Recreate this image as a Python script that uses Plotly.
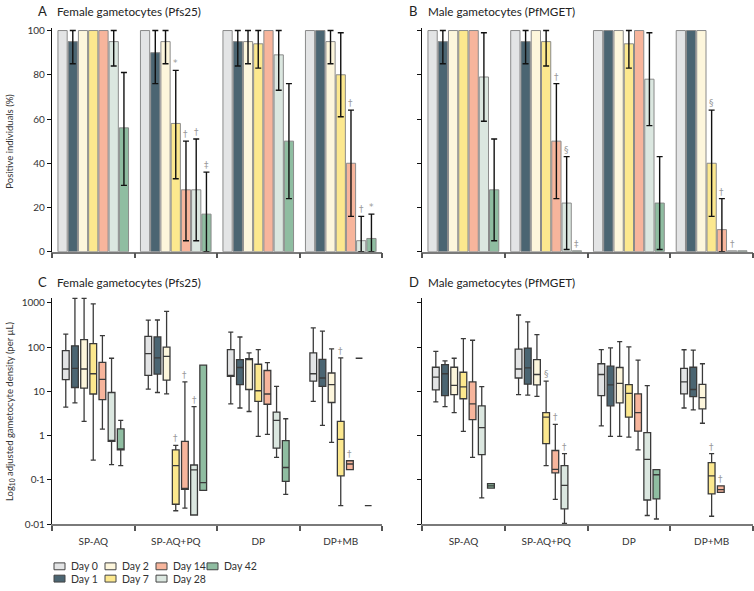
import math
import plotly.graph_objects as go

W, H = 754, 591
FONT = "Lato"

groups = ["SP-AQ", "SP-AQ+PQ", "DP", "DP+MB"]
days = ["Day 0", "Day 1", "Day 2", "Day 7", "Day 14", "Day 28", "Day 42"]
day_colors = ["#e3e4e5", "#4b6572", "#fdf6dc", "#fce88e", "#f7b59c", "#dbe7e0", "#8fbda1"]

# Panel A/B: % positive individuals, rows = day, cols = group; CI lower / upper (None = not drawn)
fem_pct = [[100, 100, 100, 100], [95, 90, 95, 100], [100, 95, 95, 95], [100, 58, 94, 80],
           [100, 28, 100, 40], [95, 28, 89, 5], [56, 17, 50, 6]]
fem_lo = [[None] * 4, [85, 76, 84, None], [None, 85, 85, 85], [None, 33, 83, 61],
          [None, 5, None, 16], [84, 5, 73, 0], [30, 0, 24, 0]]
fem_hi = [[None] * 4, [100, 100, 100, None], [None, 100, 100, 100], [None, 82, 100, 99],
          [None, 50, None, 64], [100, 51, 100, 16], [81, 36, 76, 17]]
fem_sig = [(1, 3, "*"), (1, 4, "†"), (1, 5, "†"), (1, 6, "‡"), (3, 4, "†"), (3, 5, "†"), (3, 6, "*")]

male_pct = [[100, 100, 100, 100], [95, 95, 100, 100], [100, 100, 100, 100], [100, 95, 94, 40],
            [100, 50, 100, 10], [79, 22, 78, 0.4], [28, 0.4, 22, 0.4]]
male_lo = [[None] * 4, [85, 85, None, None], [None] * 4, [None, 84, 83, 16],
           [None, 24, None, 0], [59, 1, 57, None], [5, None, 1, None]]
male_hi = [[None] * 4, [100, 100, None, None], [None] * 4, [None, 100, 100, 64],
           [None, 76, None, 24], [99, 43, 99, None], [51, None, 43, None]]
male_sig = [(1, 4, "†"), (1, 5, "§"), (1, 6, "‡"), (3, 3, "§"), (3, 4, "†"), (3, 5, "†")]

# Panel C/D: box stats per day -> per group (lowerfence, q1, median, q3, upperfence); None = no data
fem_box = [
    [(4.4, 18.4, 32, 83, 197), (11.2, 23, 71, 175, 405), (5.2, 21.8, 21.8, 88, 219), (5.9, 17, 25, 74, 273)],
    [(5.5, 12.2, 33, 107, 1270), (9.4, 24.5, 57, 170, 410), (4.2, 14.2, 34.6, 52, 169), (1.7, 13, 20, 53, 230)],
    [(2.1, 11.8, 32, 148, 1270), (8.8, 18, 62, 100, 641), (3.5, 11, 55, 55, 74), (0.7, 5.6, 14.2, 26, 91)],
    [(0.28, 8.7, 25, 120, 950), (0.02, 0.028, 0.21, 0.475, 0.6), (0.96, 5.9, 10.3, 41, 88), (0.026, 0.123, 0.82, 2.1, 57)],
    [(1.4, 6.5, 18.7, 45, 181), (0.023, 0.061, 0.061, 0.74, 16.3), (1.06, 5.1, 8.7, 29.6, 44.6), (0.17, 0.17, 0.228, 0.27, 0.27)],
    [(0.22, 0.74, 0.74, 9.4, 56), (0.016, 0.016, 0.167, 0.216, 4.5), (0.32, 0.52, 2.2, 3.4, 13), (56, 56, 56, 56, 56)],
    [(0.21, 0.475, 0.475, 1.42, 2.2), (0.058, 0.058, 0.086, 39, 39), (0.047, 0.092, 0.19, 0.77, 2.4), (0.026, 0.026, 0.026, 0.026, 0.026)],
]
fem_box_sig = [(1, 3, "†"), (1, 4, "†"), (1, 5, "†"), (3, 3, "†"), (3, 4, "†")]

male_box = [
    [(5.75, 10.8, 21, 35, 80), (8.4, 20, 32, 90, 532), (1.65, 8, 24, 42, 88), (4.2, 8.8, 16.3, 33, 87)],
    [(4.5, 8, 25, 40, 49), (8.2, 14.5, 34, 95, 371), (0.96, 4.7, 14, 37, 96), (3.8, 7.6, 11, 35, 85)],
    [(3.3, 8.4, 13.7, 35, 56), (7.7, 14, 24, 52, 191), (0.96, 5.5, 15.2, 34.6, 133), (1.9, 4.0, 7.2, 14.4, 42)],
    [(1.24, 6.8, 12.6, 27, 155), (0.21, 0.66, 2.6, 3.3, 17), (0.92, 2.6, 9, 14.2, 101), (0.015, 0.048, 0.123, 0.244, 0.39)],
    [(0.32, 2.3, 5.2, 16.3, 143), (0.036, 0.144, 0.173, 0.46, 1.8), (0.475, 1.26, 3.3, 8.8, 51), (0.052, 0.052, 0.06, 0.073, 0.073)],
    [(0.039, 0.37, 1.52, 4.7, 12.8), (0.0103, 0.022, 0.075, 0.21, 0.39), (0.0156, 0.035, 0.29, 1.17, 13.5), None],
    [(0.065, 0.065, 0.073, 0.082, 0.082), None, (0.013, 0.037, 0.13, 0.17, 0.17), None],
]
male_box_sig = [(1, 3, "§"), (1, 4, "†"), (1, 5, "†"), (3, 3, "†"), (3, 4, "†")]

log_ticks = [0.01, 0.1, 1, 10, 100, 1000]
log_ticktext = ["0·01", "0·1", "1", "10", "100", "1000"]

BAR_STEP, BAR_W = 0.124, 0.112
BOX_STEP, BOX_W = 0.111, 0.082
SIG_FONT = dict(family="DejaVu Sans", size=9, color="#999999")


def px(x):
    # pixel -> paper fraction
    return x / W


def py(y):
    return 1 - y / H


fig = go.Figure()


def add_bars(pct, lo, hi, sig, xa, ya):
    for d, name in enumerate(days):
        xs = [g + (d - 3) * BAR_STEP for g in range(4)]
        fig.add_trace(go.Bar(x=xs, y=pct[d], width=BAR_W, name=name, showlegend=False,
                             marker=dict(color=day_colors[d], line=dict(color="#8a8a8a", width=1)),
                             xaxis=xa, yaxis=ya))
        ex, ey, eu, em = [], [], [], []
        for g in range(4):
            if lo[d][g] is None:
                continue
            ex.append(xs[g])
            ey.append(pct[d][g])
            eu.append(hi[d][g] - pct[d][g])
            em.append(pct[d][g] - lo[d][g])
        if ex:
            fig.add_trace(go.Scatter(x=ex, y=ey, mode="markers", marker=dict(size=1, opacity=0),
                                     error_y=dict(type="data", array=eu, arrayminus=em, symmetric=False,
                                                  color="#111", thickness=1.4, width=3),
                                     showlegend=False, hoverinfo="skip", xaxis=xa, yaxis=ya))
    for g, d, s in sig:
        top = hi[d][g] if hi[d][g] is not None else pct[d][g]
        fig.add_annotation(x=g + (d - 3) * BAR_STEP, y=top, xref=xa, yref=ya, text=s, showarrow=False,
                           xanchor="center", yanchor="bottom", font=SIG_FONT)


def add_boxes(box, sig, xa, ya):
    for d, name in enumerate(days):
        xs, lf, q1, md, q3, uf = [], [], [], [], [], []
        for g in range(4):
            b = box[d][g]
            if b is None:
                continue
            xs.append(g + (d - 3) * BOX_STEP)
            lf.append(b[0]); q1.append(b[1]); md.append(b[2]); q3.append(b[3]); uf.append(b[4])
        fig.add_trace(go.Box(x=xs, q1=q1, median=md, q3=q3, lowerfence=lf, upperfence=uf,
                             width=BOX_W, whiskerwidth=0.75, fillcolor=day_colors[d],
                             line=dict(color="#3a3a3a", width=1.3), name=name, showlegend=False,
                             hoverinfo="skip", xaxis=xa, yaxis=ya))
    for g, d, s in sig:
        fig.add_annotation(x=g + (d - 3) * BOX_STEP, y=math.log10(box[d][g][4]), xref=xa, yref=ya,
                           text=s, showarrow=False, xanchor="center", yanchor="bottom", font=SIG_FONT)


add_bars(fem_pct, fem_lo, fem_hi, fem_sig, "x", "y")
add_bars(male_pct, male_lo, male_hi, male_sig, "x2", "y2")
add_boxes(fem_box, fem_box_sig, "x3", "y3")
add_boxes(male_box, male_box_sig, "x4", "y4")

tick_font = dict(family=FONT, size=10, color="#333")
xcommon = dict(range=[-0.5, 3.5], showline=True, linecolor="#7a7a7a", linewidth=1.5, showgrid=False,
               zeroline=False, tickvals=[0, 1, 2, 3], ticktext=groups, ticks="", ticklabelstandoff=7,
               tickfont=tick_font,
               minor=dict(tickvals=[-0.5, 0.5, 1.5, 2.5, 3.5], ticks="outside", ticklen=5,
                          tickwidth=1.5, tickcolor="#555"))
ycommon = dict(showline=True, linecolor="#111", linewidth=1.3, ticks="outside", ticklen=4,
               tickwidth=1.2, tickcolor="#111", showgrid=False, zeroline=False, tickfont=tick_font)

yA = [24.75, 252]
yC = [298.6, 529]
xL = [52, 382]
xR = [422, 753]

fig.update_layout(
    width=W, height=H, margin=dict(l=0, r=0, t=0, b=0),
    paper_bgcolor="white", plot_bgcolor="white", barmode="overlay", boxmode="overlay",
    showlegend=False, font=dict(family=FONT, color="#222"),
    xaxis=dict(xcommon, domain=[px(xL[0]), px(xL[1])], anchor="y", showticklabels=False),
    yaxis=dict(ycommon, domain=[py(yA[1]), py(yA[0])], anchor="x", range=[0, 101],
               tickvals=[0, 20, 40, 60, 80, 100]),
    xaxis2=dict(xcommon, domain=[px(xR[0]), px(xR[1])], anchor="y2", showticklabels=False),
    yaxis2=dict(ycommon, domain=[py(yA[1]), py(yA[0])], anchor="x2", range=[0, 101],
                tickvals=[0, 20, 40, 60, 80, 100], showticklabels=False),
    xaxis3=dict(xcommon, domain=[px(xL[0]), px(xL[1])], anchor="y3"),
    yaxis3=dict(ycommon, domain=[py(yC[1]), py(yC[0])], anchor="x3", type="log", range=[-2, 3.12],
                tickvals=log_ticks, ticktext=log_ticktext),
    xaxis4=dict(xcommon, domain=[px(xR[0]), px(xR[1])], anchor="y4"),
    yaxis4=dict(ycommon, domain=[py(yC[1]), py(yC[0])], anchor="x4", type="log", range=[-2, 3.12],
                tickvals=log_ticks, showticklabels=False),
)

# panel letters and titles
for letter, title, x0, y0 in [("A", "Female gametocytes (Pfs25)", 36, 7), ("B", "Male gametocytes (PfMGET)", 407, 7),
                              ("C", "Female gametocytes (Pfs25)", 36, 283), ("D", "Male gametocytes (PfMGET)", 407, 283)]:
    fig.add_annotation(x=px(x0), y=py(y0), xref="paper", yref="paper", text=letter, showarrow=False,
                       xanchor="left", yanchor="middle", font=dict(family=FONT, size=13, color="#222"))
    fig.add_annotation(x=px(x0 + 19), y=py(y0), xref="paper", yref="paper", text=title, showarrow=False,
                       xanchor="left", yanchor="middle", font=dict(family=FONT, size=11.7, color="#222"))

fig.add_annotation(x=px(10), y=py(140), xref="paper", yref="paper", text="Positive individuals (%)",
                   textangle=-90, showarrow=False, xanchor="center", yanchor="middle",
                   font=dict(family=FONT, size=9.5, color="#333"))
fig.add_annotation(x=px(10), y=py(415), xref="paper", yref="paper",
                   text="Log<sub>10</sub> adjusted gametocyte density (per µL)",
                   textangle=-90, showarrow=False, xanchor="center", yanchor="middle",
                   font=dict(family=FONT, size=9.5, color="#333"))

# legend: 4 columns x 2 rows, filled column-wise
for d, name in enumerate(days):
    col, row = d // 2, d % 2
    sx = 54 + col * 51
    sy = 572 + row * 12.5
    fig.add_shape(type="rect", xref="paper", yref="paper", x0=px(sx), x1=px(sx + 11),
                  y0=py(sy + 3.5), y1=py(sy - 3.5), fillcolor=day_colors[d], line=dict(color="#444", width=1))
    fig.add_annotation(x=px(sx + 15), y=py(sy), xref="paper", yref="paper", text=name, showarrow=False,
                       xanchor="left", yanchor="middle", font=dict(family=FONT, size=10.5, color="#333"))

# drop the default 8px page margin so the figure sits at the window corner
fig.write_html("out.html", config={"displayModeBar": False},
               post_script="document.body.style.margin='0';")
